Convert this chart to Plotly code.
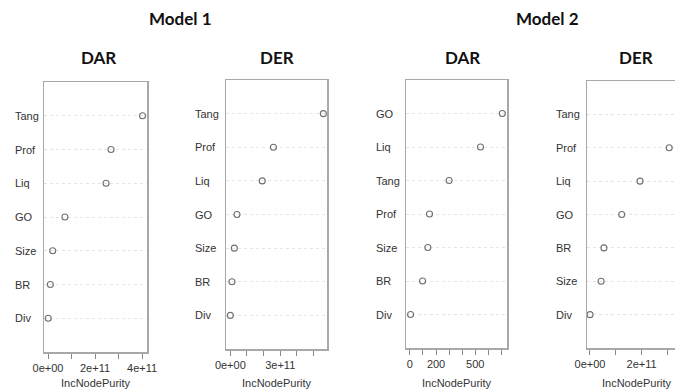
import plotly.graph_objects as go

W, H = 675, 389

# ---- data (variables listed bottom -> top) ----
m1_dar_vars = ["Div", "BR", "Size", "GO", "Liq", "Prof", "Tang"]
m1_dar_vals = [0.01e11, 0.10e11, 0.20e11, 0.72e11, 2.47e11, 2.68e11, 4.02e11]

m1_der_vars = ["Div", "BR", "Size", "GO", "Liq", "Prof", "Tang"]
m1_der_vals = [0.0, 0.10e11, 0.24e11, 0.40e11, 1.92e11, 2.59e11, 5.59e11]

m2_dar_vars = ["Div", "BR", "Size", "Prof", "Tang", "Liq", "GO"]
m2_dar_vals = [5, 97, 137, 150, 300, 540, 707]

m2_der_vars = ["Div", "Size", "BR", "GO", "Liq", "Prof", "Tang"]
m2_der_vals = [0.0, 0.43e11, 0.54e11, 1.23e11, 1.94e11, 3.07e11, 3.60e11]

m1_dar_ticks = [0, 1e11, 2e11, 3e11, 4e11]
m1_dar_ticktext = ["0e+00", "", "2e+11", "", "4e+11"]
m1_der_ticks = [0, 1e11, 2e11, 3e11, 4e11, 5e11]
m1_der_ticktext = ["0e+00", "", "", "3e+11", "", ""]
m2_dar_ticks = [0, 100, 200, 300, 400, 500, 600, 700]
m2_dar_ticktext = ["0", "", "200", "", "", "500", "", ""]
m2_der_ticks = [0, 1e11, 2e11, 3e11]
m2_der_ticktext = ["0e+00", "", "2e+11", ""]

model_titles = ["Model 1", "Model 2"]
panel_titles = ["DAR", "DER", "DAR", "DER"]
x_title = "IncNodePurity"

# ---- layout geometry (pixels) ----
panels = [
    dict(vars=m1_dar_vars, vals=m1_dar_vals, ticks=m1_dar_ticks, tt=m1_dar_ticktext,
         box=(44, 147, 82, 352), rng=[-0.17e11, 4.21e11], lab=13, mirror=True, tcx=95.5),
    dict(vars=m1_der_vars, vals=m1_der_vals, ticks=m1_der_ticks, tt=m1_der_ticktext,
         box=(226, 327, 80, 349), rng=[-0.26e11, 5.81e11], lab=193, mirror=True, tcx=276.5),
    dict(vars=m2_dar_vars, vals=m2_dar_vals, ticks=m2_dar_ticks, tt=m2_dar_ticktext,
         box=(406, 507, 80, 348), rng=[-30, 743], lab=374, mirror=True, tcx=456.5),
    dict(vars=m2_der_vars, vals=m2_der_vals, ticks=m2_der_ticks, tt=m2_der_ticktext,
         box=(587, 675, 81, 348), rng=[-0.116e11, 3.295e11], lab=554, mirror=False, tcx=637),
]
title_pos = [(98, 57), (277, 57), (462, 57), (636, 57)]
model_pos = [(180, 18), (547, 18)]

FRAME = "#a8a8a8"
TXT = "#333333"
font_r = "Liberation Sans, Arial, sans-serif"
font_t = "Lato, Open Sans, sans-serif"

fig = go.Figure()
annotations = []
layout = {}

for i, p in enumerate(panels):
    n = i + 1
    xa = "xaxis" if n == 1 else f"xaxis{n}"
    ya = "yaxis" if n == 1 else f"yaxis{n}"
    xr = "x" if n == 1 else f"x{n}"
    yr = "y" if n == 1 else f"y{n}"
    l, r, t, b = p["box"]
    ypos = list(range(1, len(p["vars"]) + 1))
    fig.add_trace(go.Scatter(
        x=p["vals"], y=ypos, mode="markers", xaxis=xr, yaxis=yr,
        marker=dict(symbol="circle-open", size=6, color="#707070", line=dict(width=1.1)),
        showlegend=False, hoverinfo="skip", cliponaxis=False,
    ))
    layout[xa] = dict(
        domain=[l / W, r / W], range=p["rng"], anchor=yr, automargin=False,
        showline=True, linecolor=FRAME, linewidth=1.5, mirror=True,
        showgrid=False, zeroline=False,
        ticks="outside", ticklen=5, tickwidth=1, tickcolor="#888888",
        tickvals=p["ticks"], ticktext=p["tt"],
        tickfont=dict(family=font_r, size=11, color=TXT),
    )
    layout[ya] = dict(
        domain=[(H - b) / H, (H - t) / H], range=[0, len(p["vars"]) + 1], anchor=xr,
        automargin=False,
        showline=True, linecolor=FRAME, linewidth=1.5, mirror=p["mirror"],
        showgrid=True, gridcolor="#e4e4e4", griddash="dot", gridwidth=1,
        zeroline=False, tickvals=ypos, showticklabels=False, ticks="",
    )
    for v, yv in zip(p["vars"], ypos):
        annotations.append(dict(
            text=v, x=p["lab"] / W, xref="paper", xanchor="left",
            y=yv, yref=yr, yanchor="middle", showarrow=False,
            font=dict(family=font_r, size=11, color=TXT),
        ))
    annotations.append(dict(
        text=x_title, x=p["tcx"] / W, xref="paper",
        xanchor="center", y=(H - 382.5) / H, yref="paper", yanchor="middle",
        showarrow=False, font=dict(family=font_r, size=11, color=TXT),
    ))
    tx, ty = title_pos[i]
    annotations.append(dict(
        text=f"<b>{panel_titles[i]}</b>", x=tx / W, y=(H - ty) / H, xref="paper", yref="paper",
        xanchor="center", yanchor="middle", showarrow=False,
        font=dict(family=font_t, size=17, color="#111111"),
    ))

for name, (mx, my) in zip(model_titles, model_pos):
    annotations.append(dict(
        text=f"<b>{name}</b>", x=mx / W, y=(H - my) / H, xref="paper", yref="paper",
        xanchor="center", yanchor="middle", showarrow=False,
        font=dict(family=font_t, size=17, color="#111111"),
    ))

fig.update_layout(
    template="none",
    width=W, height=H, margin=dict(l=0, r=0, t=0, b=0, pad=0, autoexpand=False),
    paper_bgcolor="white", plot_bgcolor="white",
    annotations=annotations, **layout,
)

fig.write_html(
    "out.html",
    config={"displayModeBar": False, "staticPlot": True},
    post_script="document.body.style.margin='0';document.body.style.overflow='hidden';",
)
